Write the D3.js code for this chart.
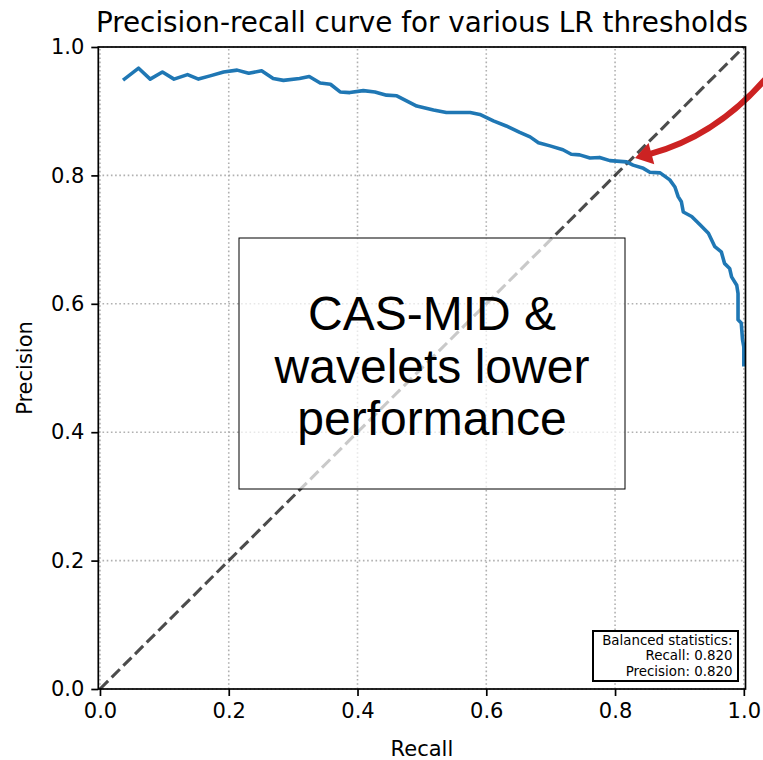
<!DOCTYPE html>
<html>
<head>
<meta charset="utf-8">
<script src="https://cdn.jsdelivr.net/npm/d3@7"></script>
<style>
  html, body { margin: 0; padding: 0; background: #fff; }
  svg { display: block; }
</style>
</head>
<body>
<svg id="chart" width="763" height="760"></svg>
<script>
const recall = [0.038,0.060,0.078,0.097,0.115,0.136,0.153,0.171,0.192,0.213,0.231,0.251,0.269,0.285,0.310,0.325,0.342,0.358,0.373,0.388,0.409,0.427,0.445,0.461,0.492,0.518,0.538,0.575,0.590,0.611,0.631,0.652,0.668,0.681,0.699,0.719,0.732,0.745,0.761,0.776,0.792,0.818,0.828,0.844,0.854,0.870,0.885,0.893,0.898,0.903,0.906,0.919,0.932,0.945,0.955,0.965,0.970,0.978,0.981,0.989,0.991,0.991,0.996,0.998,1.0,1.0];
const precision = [0.950,0.967,0.950,0.961,0.950,0.957,0.950,0.955,0.961,0.964,0.959,0.963,0.951,0.948,0.951,0.954,0.944,0.942,0.930,0.929,0.932,0.930,0.925,0.924,0.908,0.902,0.898,0.898,0.895,0.885,0.877,0.867,0.860,0.851,0.846,0.840,0.833,0.832,0.827,0.828,0.823,0.821,0.816,0.811,0.805,0.804,0.793,0.782,0.767,0.759,0.743,0.736,0.723,0.710,0.689,0.681,0.663,0.655,0.642,0.629,0.616,0.575,0.570,0.544,0.533,0.505];
const ticks = [0.0, 0.2, 0.4, 0.6, 0.8, 1.0];
const title = "Precision-recall curve for various LR thresholds";
const xLabel = "Recall";
const yLabel = "Precision";
const boxLines = ["CAS-MID &", "wavelets lower", "performance"];
const statsLines = ["Balanced statistics:", "Recall: 0.820", "Precision: 0.820"];
// arrow: start, control, end (data coords)
const arrowPts = [[1.042, 0.960], [0.961, 0.862], [0.831, 0.827]];

const svg = d3.select("#chart");
const x = d3.scaleLinear().domain([-0.0026, 1.0026]).range([98.3, 745.5]);
const y = d3.scaleLinear().domain([0, 1]).range([689, 47]);
const fmt = d3.format(".1f");
const sans = "'DejaVu Sans', sans-serif";

// grid
const grid = svg.append("g");
grid.selectAll(".gx").data(ticks).join("line")
  .attr("x1", d => x(d)).attr("x2", d => x(d))
  .attr("y1", y(0)).attr("y2", y(1))
  .attr("stroke", "#b0b0b0").attr("stroke-width", 1.6).attr("stroke-dasharray", "1.6,2.6");
grid.selectAll(".gy").data(ticks).join("line")
  .attr("y1", d => y(d)).attr("y2", d => y(d))
  .attr("x1", x(-0.0026)).attr("x2", x(1.0026))
  .attr("stroke", "#b0b0b0").attr("stroke-width", 1.6).attr("stroke-dasharray", "1.6,2.6");

// diagonal
svg.append("line")
  .attr("x1", x(0)).attr("y1", y(0)).attr("x2", x(1)).attr("y2", y(1))
  .attr("stroke", "#000").attr("stroke-opacity", 0.7)
  .attr("stroke-width", 3.1).attr("stroke-dasharray", "11.5,5");

// curve
const line = d3.line().x(d => x(d[0])).y(d => y(d[1]));
svg.append("path")
  .datum(recall.map((r, i) => [r, precision[i]]))
  .attr("d", line)
  .attr("fill", "none").attr("stroke", "#1f77b4").attr("stroke-width", 3.6)
  .attr("stroke-linejoin", "round").attr("stroke-linecap", "square");

// annotation box
const bx0 = 239, by0 = 238, bx1 = 625, by1 = 489;
svg.append("rect")
  .attr("x", bx0).attr("y", by0).attr("width", bx1 - bx0).attr("height", by1 - by0)
  .attr("fill", "#fff").attr("fill-opacity", 0.7)
  .attr("stroke", "#000").attr("stroke-width", 1);
const bt = svg.append("text")
  .attr("font-family", "'Liberation Sans', Arial, sans-serif")
  .attr("font-size", 48).attr("text-anchor", "middle").attr("fill", "#000");
boxLines.forEach((s, i) => {
  bt.append("tspan").attr("x", (bx0 + bx1) / 2).attr("y", 330 + i * 52.5).text(s);
});

// arrow
const p0 = [x(arrowPts[0][0]), y(arrowPts[0][1])];
const pc = [x(arrowPts[1][0]), y(arrowPts[1][1])];
const pt = [x(arrowPts[2][0]), y(arrowPts[2][1])];
let dx = pt[0] - pc[0], dy = pt[1] - pc[1];
const dl = Math.hypot(dx, dy); dx /= dl; dy /= dl;
const headLen = 17, headW = 11;
const base = [pt[0] - dx * headLen, pt[1] - dy * headLen];
const path = d3.path();
path.moveTo(p0[0], p0[1]);
path.quadraticCurveTo(pc[0], pc[1], base[0] + dx * 2, base[1] + dy * 2);
svg.append("path").attr("d", path.toString())
  .attr("fill", "none").attr("stroke", "#cc2222").attr("stroke-width", 6);
svg.append("polygon")
  .attr("points", [
    pt,
    [base[0] - dy * headW, base[1] + dx * headW],
    [base[0] + dy * headW, base[1] - dx * headW]
  ].map(p => p.join(",")).join(" "))
  .attr("fill", "#cc2222");

// stats box
svg.append("rect")
  .attr("x", 593).attr("y", 631).attr("width", 145).attr("height", 50)
  .attr("fill", "#fff").attr("stroke", "#000").attr("stroke-width", 2);
const st = svg.append("text").attr("font-family", sans).attr("font-size", 13.4)
  .attr("text-anchor", "end").attr("fill", "#000");
statsLines.forEach((s, i) => {
  st.append("tspan").attr("x", 732.5).attr("y", 644.5 + i * 15.5).text(s);
});

// spines
svg.append("rect")
  .attr("x", x(-0.0026)).attr("y", y(1)).attr("width", x(1.0026) - x(-0.0026)).attr("height", y(0) - y(1))
  .attr("fill", "none").attr("stroke", "#000").attr("stroke-width", 1.7);

// axes
const xAxis = svg.append("g").attr("transform", `translate(0,${y(0)})`)
  .call(d3.axisBottom(x).tickValues(ticks).tickFormat(fmt).tickSize(7).tickPadding(7));
const yAxis = svg.append("g").attr("transform", `translate(${x(-0.0026)},0)`)
  .call(d3.axisLeft(y).tickValues(ticks).tickFormat(fmt).tickSize(7).tickPadding(7));
[xAxis, yAxis].forEach(g => {
  g.select(".domain").remove();
  g.selectAll(".tick line").attr("stroke", "#000").attr("stroke-width", 1.7);
  g.selectAll(".tick text").attr("font-family", sans).attr("font-size", 21).attr("fill", "#000");
});

// labels
svg.append("text").attr("x", (x(0) + x(1)) / 2).attr("y", 32)
  .attr("text-anchor", "middle").attr("font-family", sans).attr("font-size", 27.8).text(title);
svg.append("text").attr("x", (x(0) + x(1)) / 2).attr("y", 756)
  .attr("text-anchor", "middle").attr("font-family", sans).attr("font-size", 21).text(xLabel);
svg.append("text").attr("transform", `translate(32,${(y(0) + y(1)) / 2}) rotate(-90)`)
  .attr("text-anchor", "middle").attr("font-family", sans).attr("font-size", 21).text(yLabel);
</script>
</body>
</html>
